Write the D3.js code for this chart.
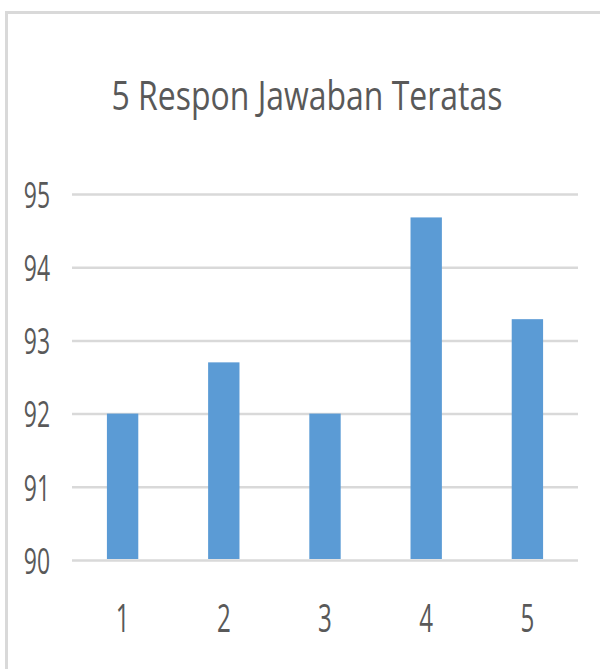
<!DOCTYPE html>
<html>
<head>
<meta charset="utf-8">
<script src="https://cdn.jsdelivr.net/npm/d3@7"></script>
<style>
body { margin: 0; background: #fff; }
</style>
</head>
<body>
<div id="chart"></div>
<script>
var title = "5 Respon Jawaban Teratas";
var categories = ["1", "2", "3", "4", "5"];
var values = [92.0, 92.7, 92.0, 94.68, 93.29];
var yTicks = [90, 91, 92, 93, 94, 95];

var width = 600, height = 669;
var plotLeft = 72, plotRight = 578, plotTop = 194, plotBottom = 560;
var textColor = "#595959";
var squeeze = 0.62;

var svg = d3.select("#chart").append("svg")
    .attr("width", width)
    .attr("height", height)
    .style("display", "block");

// chart frame (only top and left edges fall inside the picture)
svg.append("rect")
    .attr("x", 6.5).attr("y", 12.5)
    .attr("width", 700).attr("height", 700)
    .attr("fill", "none")
    .attr("stroke", "#d9d9d9")
    .attr("stroke-width", 3);

var x = d3.scaleBand().domain(categories).range([plotLeft, plotRight])
    .paddingInner(0.69).paddingOuter(0.345);
var y = d3.scaleLinear().domain([90, 95]).range([plotBottom, plotTop]);

// gridlines + y labels
var yAxis = svg.append("g")
    .attr("transform", "translate(" + plotLeft + ",0)")
    .call(d3.axisLeft(y).tickValues(yTicks).tickSize(-(plotRight - plotLeft)).tickFormat(d3.format("d")));
yAxis.select(".domain").remove();
yAxis.selectAll("line").attr("stroke", "#d9d9d9").attr("stroke-width", 2.5);
yAxis.selectAll("text")
    .attr("x", -22 / squeeze)
    .attr("dy", "0.36em")
    .attr("transform", "scale(" + squeeze + ",1)")
    .attr("fill", textColor)
    .style("font-family", "'Open Sans', sans-serif")
    .style("font-size", "37px");

// bars
svg.selectAll(".bar")
    .data(values)
    .enter().append("rect")
    .attr("class", "bar")
    .attr("x", function(d, i) { return x(categories[i]); })
    .attr("width", x.bandwidth())
    .attr("y", function(d) { return y(d); })
    .attr("height", function(d) { return y(90) - y(d) - 1; })
    .attr("fill", "#5b9bd5");

// x labels
var xAxis = svg.append("g")
    .attr("transform", "translate(0," + plotBottom + ")")
    .call(d3.axisBottom(x).tickSize(0));
xAxis.select(".domain").remove();
xAxis.selectAll("text")
    .attr("y", 72)
    .attr("dy", 0)
    .attr("transform", "scale(" + squeeze + ",1)")
    .attr("fill", textColor)
    .style("font-family", "'Open Sans', sans-serif")
    .style("font-size", "39px");

// title
svg.append("text")
    .attr("x", 307)
    .attr("y", 110)
    .attr("text-anchor", "middle")
    .attr("textLength", 391)
    .attr("lengthAdjust", "spacingAndGlyphs")
    .attr("fill", textColor)
    .style("font-family", "'Open Sans', sans-serif")
    .style("font-size", "40px")
    .text(title);
</script>
</body>
</html>
